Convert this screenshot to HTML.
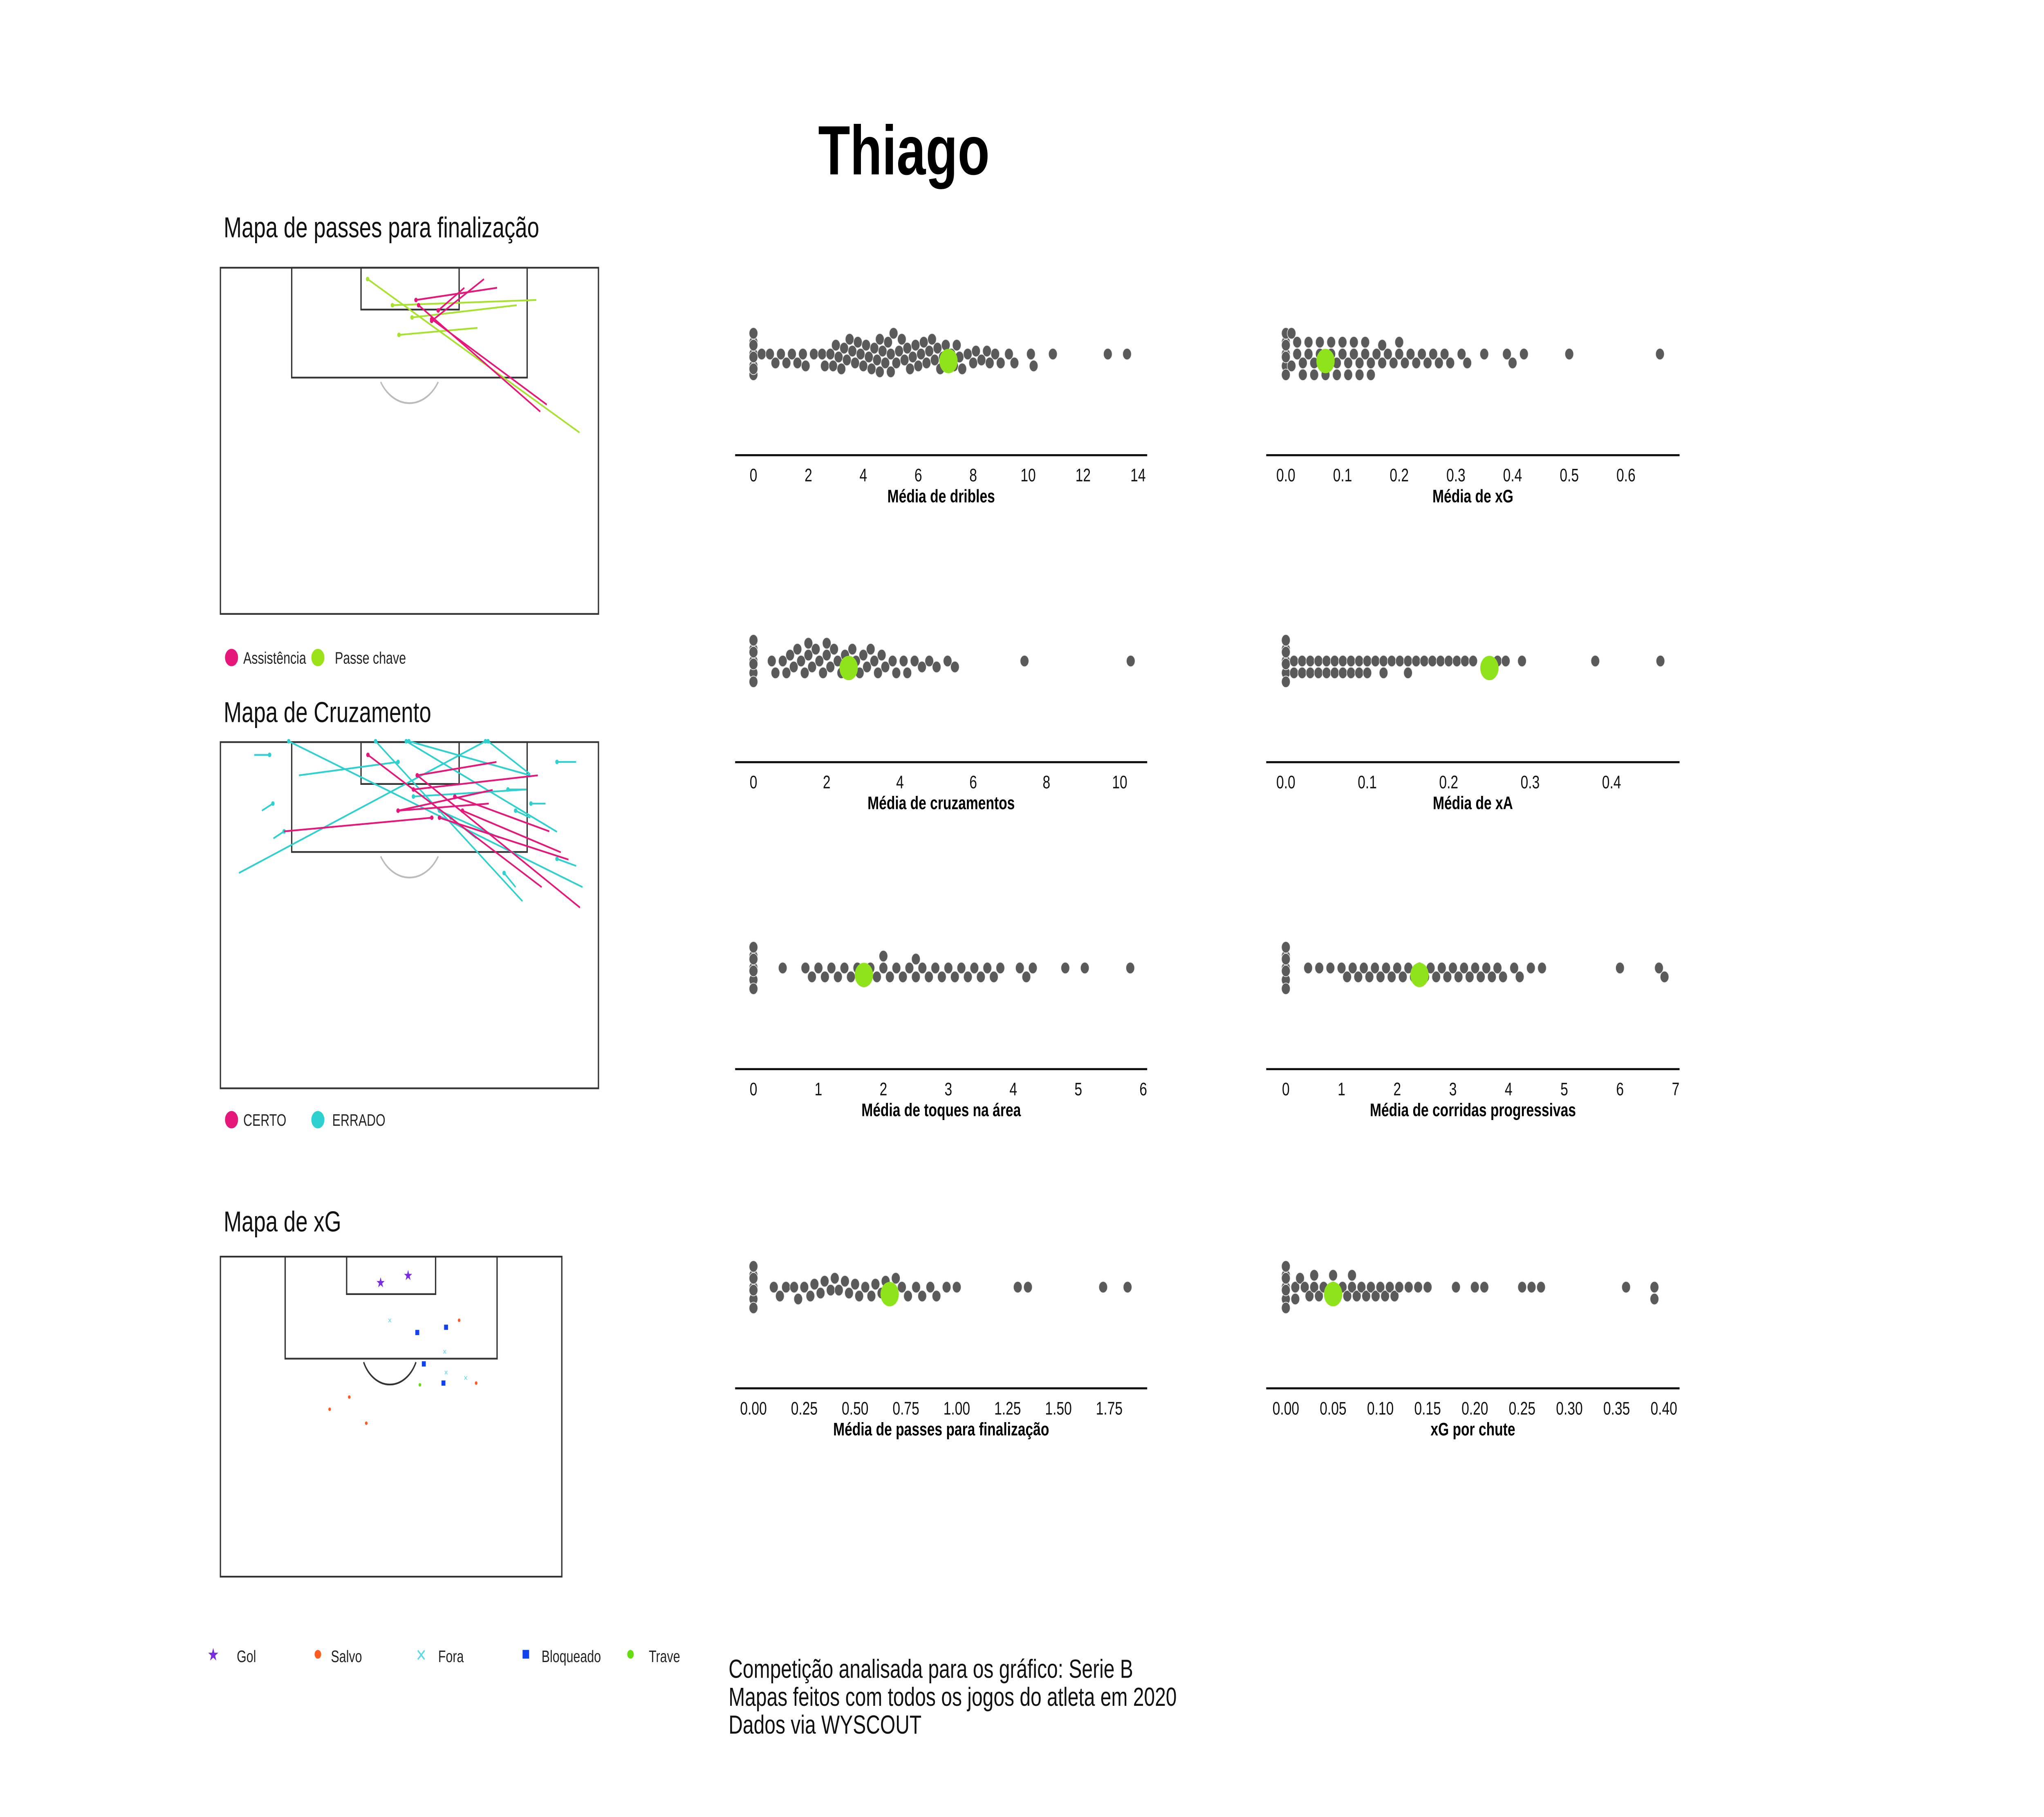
<!DOCTYPE html>
<html><head><meta charset="utf-8">
<style>
html,body{margin:0;padding:0;background:#fff;width:100vw;height:100vh;overflow:hidden;}
svg{display:block;font-family:"Liberation Sans",sans-serif;width:100vw;height:100vh;position:absolute;left:0;top:0;}
</style></head>
<body>
<svg id="root" xmlns="http://www.w3.org/2000/svg" viewBox="0 0 1562.6 1041.8" preserveAspectRatio="none">
<rect x="0" y="0" width="1562.6" height="1041.8" fill="#fff"/>
<text x="691" y="100" text-anchor="middle" font-size="40" font-weight="bold" fill="#000">Thiago</text>

<text x="171" y="136" font-size="16.5" fill="#111">Mapa de passes para finalização</text>
<g fill="none" stroke="#333" stroke-width="1">
<rect x="168.5" y="153.5" width="289" height="198.5"/>
<rect x="223" y="153.5" width="180" height="63"/>
<rect x="276" y="153.5" width="75" height="24"/>
<path d="M291 219 A26 26 0 0 0 335 219" stroke="#bbb"/>
</g>
<g id="passLines"></g>
<g font-size="9.5" fill="#222">
<circle cx="177" cy="377" r="5" fill="#e6177a"/>
<text x="186" y="380.5">Assistência</text>
<circle cx="243" cy="377" r="5" fill="#9be21a"/>
<text x="256" y="380.5">Passe chave</text>
</g>

<text x="171" y="414" font-size="16.5" fill="#111">Mapa de Cruzamento</text>
<g fill="none" stroke="#333" stroke-width="1">
<rect x="168.5" y="425.5" width="289" height="198.5"/>
<rect x="223" y="425.5" width="180" height="63"/>
<rect x="276" y="425.5" width="75" height="24"/>
<path d="M291 491 A26 26 0 0 0 335 491" stroke="#bbb"/>
</g>
<g id="crossLines"></g>
<g font-size="9.5" fill="#222">
<circle cx="177" cy="642" r="5" fill="#e6177a"/>
<text x="186" y="645.5">CERTO</text>
<circle cx="243" cy="642" r="5" fill="#2fd0d0"/>
<text x="254" y="645.5">ERRADO</text>
</g>

<text x="171" y="706" font-size="16.5" fill="#111">Mapa de xG</text>
<g fill="none" stroke="#333" stroke-width="1">
<rect x="168.5" y="720.5" width="261" height="183.5"/>
<rect x="218" y="720.5" width="162" height="58.5"/>
<rect x="265" y="720.5" width="68" height="21.5"/>
<path d="M278 781 A22 22 0 0 0 318 781"/>
</g>
<g id="shots"></g>
<g font-size="9.5" fill="#222">
<text x="163" y="952" font-size="10" fill="#7b2be2" text-anchor="middle">★</text>
<text x="181" y="953">Gol</text>
<circle cx="243" cy="948.5" r="2.5" fill="#ff5a1f"/>
<text x="253" y="953">Salvo</text>
<text x="322" y="952.5" font-size="10" fill="#62d9e6" text-anchor="middle">✕</text>
<text x="335" y="953">Fora</text>
<rect x="399.5" y="946" width="5" height="5" fill="#1142f0"/>
<text x="414" y="953">Bloqueado</text>
<circle cx="482" cy="948.5" r="2.5" fill="#66dd11"/>
<text x="496" y="953">Trave</text>
</g>

<g font-size="15" fill="#111">
<text x="557" y="962">Competição analisada para os gráfico: Serie B</text>
<text x="557" y="978">Mapas feitos com todos os jogos do atleta em 2020</text>
<text x="557" y="994">Dados via WYSCOUT</text>
</g>

<g id="strips"></g>
</svg>

<script>
const dribles = [0,0,0,0,0,0,0,0,0.3,0.6,0.8,1.0,1.2,1.4,1.6,1.8,1.9,2.2,2.5,2.6,2.8,2.9,3.0,3.1,3.2,3.3,3.4,3.5,3.6,3.7,3.8,3.9,4.0,4.1,4.2,4.3,4.4,4.5,4.6,4.6,4.7,4.8,4.9,5.0,5.0,5.1,5.2,5.3,5.4,5.5,5.6,5.7,5.8,5.9,6.0,6.1,6.2,6.3,6.4,6.5,6.6,6.7,6.8,6.9,7.0,7.2,7.3,7.4,7.5,7.6,7.8,8.0,8.1,8.3,8.5,8.6,8.8,9.0,9.3,9.5,10.1,10.2,10.9,12.9,13.6];
const xgMedia = [0,0,0,0,0,0,0,0.01,0.01,0.02,0.02,0.03,0.03,0.04,0.04,0.05,0.05,0.06,0.06,0.07,0.07,0.08,0.08,0.09,0.09,0.1,0.1,0.11,0.11,0.12,0.12,0.13,0.13,0.14,0.14,0.15,0.15,0.16,0.17,0.17,0.18,0.19,0.2,0.2,0.21,0.22,0.23,0.24,0.25,0.26,0.27,0.28,0.29,0.31,0.32,0.35,0.39,0.4,0.42,0.5,0.66];
const cruzamentos = [0,0,0,0,0,0,0,0.5,0.6,0.8,0.9,1.0,1.1,1.2,1.3,1.4,1.5,1.5,1.6,1.7,1.8,1.9,2.0,2.0,2.1,2.2,2.3,2.4,2.5,2.6,2.7,2.8,2.9,3.0,3.1,3.2,3.3,3.4,3.5,3.6,3.8,3.9,4.1,4.2,4.4,4.6,4.8,5.0,5.3,5.5,7.4,10.3];
const xaMedia = [0,0,0,0,0,0,0,0.01,0.01,0.02,0.02,0.03,0.03,0.04,0.04,0.05,0.05,0.06,0.06,0.07,0.07,0.08,0.08,0.09,0.09,0.1,0.1,0.11,0.12,0.12,0.13,0.14,0.15,0.15,0.16,0.17,0.18,0.19,0.2,0.21,0.22,0.23,0.26,0.27,0.29,0.38,0.46];
const toques = [0,0,0,0,0,0,0,0.45,0.8,0.9,1.0,1.1,1.2,1.3,1.4,1.5,1.6,1.7,1.8,1.9,2.0,2.0,2.1,2.2,2.3,2.4,2.5,2.5,2.6,2.7,2.8,2.9,3.0,3.1,3.2,3.3,3.4,3.5,3.6,3.7,3.8,4.1,4.2,4.3,4.8,5.1,5.8];
const corridas = [0,0,0,0,0,0,0,0.4,0.6,0.8,1.0,1.1,1.2,1.3,1.4,1.5,1.6,1.7,1.8,1.9,2.0,2.1,2.2,2.3,2.4,2.5,2.6,2.7,2.8,2.9,3.0,3.1,3.2,3.3,3.4,3.5,3.6,3.7,3.8,3.9,4.1,4.2,4.4,4.6,6.0,6.7,6.8];
const passesFin = [0,0,0,0,0,0,0,0.1,0.13,0.16,0.2,0.22,0.25,0.28,0.3,0.33,0.35,0.38,0.4,0.42,0.45,0.47,0.5,0.52,0.55,0.58,0.6,0.63,0.65,0.68,0.7,0.73,0.76,0.8,0.83,0.87,0.9,0.95,1.0,1.3,1.35,1.72,1.84];
const xgChute = [0,0,0,0,0,0,0,0.01,0.01,0.015,0.02,0.025,0.03,0.03,0.035,0.04,0.045,0.05,0.05,0.055,0.06,0.065,0.07,0.07,0.075,0.08,0.085,0.09,0.095,0.1,0.105,0.11,0.115,0.12,0.13,0.14,0.15,0.18,0.2,0.21,0.25,0.26,0.27,0.36,0.39,0.39];
const highlights = [7.1, 0.07, 2.6, 0.25, 1.7, 2.4, 0.67, 0.05];
const tickDribles = ["0","2","4","6","8","10","12","14"];
const tickXg = ["0.0","0.1","0.2","0.3","0.4","0.5","0.6"];
const tickCruz = ["0","2","4","6","8","10"];
const tickXa = ["0.0","0.1","0.2","0.3","0.4"];
const tickToques = ["0","1","2","3","4","5","6"];
const tickCorridas = ["0","1","2","3","4","5","6","7"];
const tickPasses = ["0.00","0.25","0.50","0.75","1.00","1.25","1.50","1.75"];
const tickChute = ["0.00","0.05","0.10","0.15","0.20","0.25","0.30","0.35","0.40"];

const NS = "http://www.w3.org/2000/svg";
function mk(tag, attrs, parent){const e=document.createElementNS(NS,tag);for(const k in attrs)e.setAttribute(k,attrs[k]);parent.appendChild(e);return e;}

const strips = document.getElementById('strips');
const panels = [
 {vals:dribles, ticks:tickDribles, hi:highlights[0], left:true, axisY:261, title:"Média de dribles", x0:576, x1:870},
 {vals:xgMedia, ticks:tickXg, hi:highlights[1], left:false, axisY:261, title:"Média de xG", x0:983, x1:1243},
 {vals:cruzamentos, ticks:tickCruz, hi:highlights[2], left:true, axisY:437, title:"Média de cruzamentos", x0:576, x1:856},
 {vals:xaMedia, ticks:tickXa, hi:highlights[3], left:false, axisY:437, title:"Média de xA", x0:983, x1:1232},
 {vals:toques, ticks:tickToques, hi:highlights[4], left:true, axisY:613, title:"Média de toques na área", x0:576, x1:874},
 {vals:corridas, ticks:tickCorridas, hi:highlights[5], left:false, axisY:613, title:"Média de corridas progressivas", x0:983, x1:1281},
 {vals:passesFin, ticks:tickPasses, hi:highlights[6], left:true, axisY:796, title:"Média de passes para finalização", x0:576, x1:848},
 {vals:xgChute, ticks:tickChute, hi:highlights[7], left:false, axisY:796, title:"xG por chute", x0:983, x1:1272}
];
panels.forEach((p,pi)=>{
  const g = mk('g',{},strips);
  
  
  const tmin = parseFloat(p.ticks[0]), tmax = parseFloat(p.ticks[p.ticks.length-1]);
  const xs = v => p.x0 + (v - tmin)/(tmax - tmin)*(p.x1 - p.x0);
  const ax0 = p.left?562:968, ax1 = p.left?877:1284;
  const axis = mk('line',{x1:ax0,x2:ax1,y1:p.axisY,y2:p.axisY,stroke:'#111','stroke-width':1.2},g);
  
  
  p.ticks.forEach(t=>{
    const tx = mk('text',{x:xs(parseFloat(t)),y:p.axisY+15,'text-anchor':'middle','font-size':10.5,fill:'#111'},g);
    tx.textContent = t;
    
    
  });
  const ttl = mk('text',{x:(ax0+ax1)/2,y:p.axisY+27,'text-anchor':'middle','font-size':10.5,'font-weight':'bold',fill:'#000'},g);
  ttl.textContent = p.title;
  
  
  const cy = p.axisY - 58, r = 3.3, dmin = 6.2, maxOff = 13;
  const placed = [];
  const sorted = p.vals.slice().sort((a,b)=>a-b);
  const cands = [0]; for(let k=1;k<=8;k++){cands.push(k*1.7,-k*1.7);}
  sorted.forEach(v=>{
    const x = xs(v);
    let best=0,bestC=1e9;
    for(const o of cands){
      if(Math.abs(o)>maxOff) continue;
      let c=0;
      for(const q of placed){const dx=q[0]-x,dy=q[1]-o;const d=Math.sqrt(dx*dx+dy*dy);if(d<dmin)c+=dmin-d;}
      if(c<bestC-1e-6){bestC=c;best=o;if(c===0)break;}
    }
    placed.push([x,best]);
    const c = mk('circle',{cx:x,cy:cy+best,r:r,fill:'#5a5a5a',stroke:'#eee','stroke-width':0.4},g);
    
    
  });
  const h = mk('circle',{cx:xs(p.hi),cy:cy+4,r:7,fill:'#8fe31a'},g);
  
  
});

const passGreen = [[281,160,443,248],[305,192,365,188],[315,182,395,175],[300,175,410,172]];
const passPink = [[318,172,380,165],[330,184,370,160],[320,175,413,236],[330,183,418,232],[335,178,355,165]];
const pl = document.getElementById('passLines');
function drawLines(list,color,parent,name){
  list.forEach(l=>{
    const ln = mk('line',{x1:l[0],y1:l[1],x2:l[2],y2:l[3],stroke:color,'stroke-width':1},parent);
    
    
    const d = mk('circle',{cx:l[0],cy:l[1],r:1.3,fill:color},parent);
    
    
  });
}
drawLines(passGreen,'#a6e22e',pl,'key-pass-line');
drawLines(passPink,'#e6177a',pl,'assist-line');

const crossWrong = [[290,45,1440,665],[630,45,1205,725],[750,45,1340,430],[760,45,1235,190],[1060,45,95,605],[1070,45,1235,185],[215,103,155,103],[718,133,330,190],[1340,133,1415,133],[228,310,185,340],[272,428,230,458],[1148,250,1220,250],[778,280,1220,250],[1238,310,1295,310],[880,340,1115,455],[1178,340,1235,370],[925,370,1025,458],[1340,545,1415,575],[1133,605,1178,665]];
const crossRight = [[600,103,1280,665],[793,190,1103,133],[778,250,1265,190],[793,190,1430,752],[940,280,1310,428],[718,340,1088,252],[718,340,1073,310],[850,370,272,428],[880,370,1385,548],[970,340,1355,517]];
const cl = document.getElementById('crossLines');
const cx = v => 168 + (v-20)*0.1953, cyf = v => 425 + (v-45)*0.1349;
drawLines(crossWrong.map(l=>[cx(l[0]),cyf(l[1]),cx(l[2]),cyf(l[3])]),'#2fd0d0',cl,'cross-wrong-line');
drawLines(crossRight.map(l=>[cx(l[0]),cyf(l[1]),cx(l[2]),cyf(l[3])]),'#e6177a',cl,'cross-correct-line');

const shotsGoal = [[291,735],[312,731]];
const shotsSaved = [[351,757],[252,808],[267,801],[280,816],[364,793]];
const shotsOff = [[298,757],[340,775],[341,787],[356,790]];
const shotsBlocked = [[319,764],[341,761],[324,782],[339,793]];
const shotsPost = [[321,794]];
const sg = document.getElementById('shots');
shotsGoal.forEach(s=>{const t=mk('text',{x:s[0],y:s[1]+3,'font-size':8,fill:'#7b2be2','text-anchor':'middle'},sg);t.textContent='★';});
shotsSaved.forEach(s=>{const c=mk('circle',{cx:s[0],cy:s[1],r:1,fill:'#ff5a1f'},sg);});
shotsOff.forEach(s=>{const t=mk('text',{x:s[0],y:s[1]+1.5,'font-size':4,fill:'#62d9e6','text-anchor':'middle'},sg);t.textContent='✕';});
shotsBlocked.forEach(s=>{const r=mk('rect',{x:s[0]-1.5,y:s[1]-1.5,width:3,height:3,fill:'#1142f0'},sg);});
shotsPost.forEach(s=>{const c=mk('circle',{cx:s[0],cy:s[1],r:1,fill:'#66dd11'},sg);});
</script>
</body></html>
